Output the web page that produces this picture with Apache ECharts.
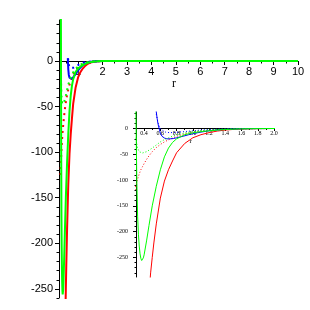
<!DOCTYPE html>
<html>
<head>
<meta charset="utf-8">
<script src="https://cdn.jsdelivr.net/npm/echarts@6/dist/echarts.min.js"></script>
<style>html,body{margin:0;padding:0;background:#fff}#c{width:310px;height:310px}</style>
</head>
<body>
<div id="c"></div>
<script>
// ---- data (r values and potential values) ----
var redSolidR = [0.43,0.46,0.48,0.50,0.52,0.55,0.60,0.65,0.70,0.75,0.80,0.90,1.0,1.1,1.2,1.3,1.4,1.5,1.6,1.8,2.0,3,4,6,8,10];
var redSolidV = [-400,-320,-280,-250,-222,-185,-135,-102,-80,-63,-47,-29,-18,-12,-8,-5,-3,-1.8,-1,-0.3,0,0,0,0,0,0];

var redDotR = [0.28,0.30,0.32,0.34,0.36,0.38,0.40,0.43,0.46,0.50,0.55,0.60,0.65,0.70,0.75,0.80,0.90,1.0,1.1,1.2,1.3,1.4,1.5,1.6,1.8,2.0,3,4,6,8,10];
var redDotV = [-125,-110,-98,-88,-80,-74,-68,-60,-53,-45,-37,-31,-26,-22,-18.5,-15,-10.5,-7.5,-5,-3.5,-2.3,-1.5,-1,-0.6,-0.2,0,0,0,0,0,0];

var greenSolidR = [0.28,0.29,0.30,0.31,0.32,0.33,0.34,0.35,0.36,0.37,0.38,0.39,0.40,0.43,0.46,0.50,0.55,0.60,0.65,0.70,0.75,0.80,0.90,1.0,1.1,1.2,1.3,1.4,1.5,1.6,1.8,2.0,3,4,6,8,10];
var greenSolidV = [300,120,20,-100,-170,-205,-228,-243,-252,-256,-255,-251,-245,-218,-188,-150,-112,-80,-55,-38,-27,-20,-12,-8.5,-6,-4.5,-3,-2,-1.2,-0.7,-0.2,0,0,0,0,0,0];

var greenDotR = [0.30,0.31,0.32,0.34,0.36,0.38,0.40,0.43,0.46,0.50,0.55,0.60,0.65,0.70,0.75,0.80,0.90,1.0,1.1,1.2,1.3,1.4,1.5,1.6,1.8,2.0,3,4,6,8,10];
var greenDotV = [-18,-30,-38,-45,-47.5,-47.5,-46.5,-45,-42,-38,-32,-26,-21.5,-18,-15,-12.5,-8.5,-6,-4,-2.8,-1.9,-1.2,-0.8,-0.5,-0.2,0,0,0,0,0,0];

var blueSolidR = [0.54,0.55,0.56,0.57,0.58,0.60,0.62,0.65,0.68,0.72,0.76,0.80,0.88,0.95,1.0,1.1,1.2,1.3,1.4,1.5,1.6,1.8,2.0,3,4,6,8,10];
var blueSolidV = [50,32,20,10,3,-9,-15,-18.5,-20,-20,-19.5,-18,-15,-12,-10,-7,-4.5,-2.8,-1.7,-1,-0.5,-0.15,0,0,0,0,0,0];

var blueDotR = [0.55,0.57,0.59,0.61,0.63,0.67,0.72,0.80,0.90,1.0,1.1,1.2,1.3,1.4,1.6,2.0,3,4,6,8,10];
var blueDotV = [28,12,3,-2,-5,-7.5,-8,-7.5,-6,-4.5,-3,-2,-1.3,-0.8,-0.3,0,0,0,0,0,0];

// in the large plot the blue curves are only drawn from about r = 0.58
var mainBlueStartR = 0.58;

// tick labels
var mainXTicks = [1,2,3,4,5,6,7,8,9,10];
var mainXMinor = [0.5,1.5,2.5,3.5,4.5,5.5,6.5,7.5,8.5,9.5];
var mainYTicks = [-250,-200,-150,-100,-50,0];
var mainYMinor = [-260,-240,-230,-220,-210,-190,-180,-170,-160,-140,-130,-120,-110,-90,-80,-70,-60,-40,-30,-20,-10,10,20,30,40];
var insetXTicks = [0.4,0.6,0.8,1.0,1.2,1.4,1.6,1.8,2.0];
var insetXMinor = [0.3,0.5,0.7,0.9,1.1,1.3,1.5,1.7,1.9];
var insetYTicks = [-250,-200,-150,-100,-50,0];
var insetYMinor = [-280,-270,-260,-240,-230,-220,-210,-190,-180,-170,-160,-140,-130,-120,-110,-90,-80,-70,-60,-40,-30,-20,-10,10,20,30];

function pairs(rs, vs, rmin){ 
  var out = [];
  rs.forEach(function(r,i){ if (rmin == null || r >= rmin) out.push([r, vs[i]]); });
  return out;
}

var curves = [
  {r: redDotR, v: redDotV, color:'#ff0000', dotted:true},
  {r: redSolidR, v: redSolidV, color:'#ff0000', dotted:false},
  {r: blueDotR, v: blueDotV, color:'#0000ff', dotted:true, mainMin: mainBlueStartR},
  {r: blueSolidR, v: blueSolidV, color:'#0000ff', dotted:false, mainMin: mainBlueStartR},
  {r: greenDotR, v: greenDotV, color:'#00ff00', dotted:true},
  {r: greenSolidR, v: greenSolidV, color:'#00ff00', dotted:false}
];

var series = [];
curves.forEach(function(c){
  series.push({type:'line', xAxisIndex:0, yAxisIndex:0, data: pairs(c.r, c.v, c.mainMin), showSymbol:false, symbol:'none', animation:false, clip:true,
    lineStyle:{color:c.color, width: 2, type: c.dotted ? [2,4] : 'solid'}});
  series.push({type:'line', xAxisIndex:1, yAxisIndex:2, data: pairs(c.r, c.v), showSymbol:false, symbol:'none', animation:false, clip:true,
    lineStyle:{color:c.color, width: 1, type: c.dotted ? [1,2] : 'solid'}});
});

var mainFont = {fontFamily:'Liberation Sans', fontSize:11, color:'#000'};
var insetFont = {fontFamily:'Liberation Serif', fontSize:6, color:'#000'};
var blackLine = {show:true, onZero:false, lineStyle:{color:'#000', width:1}};
var noLine = {show:false, onZero:false};

var option = {
  animation:false,
  backgroundColor:'#fff',
  grid:[
    {left:59, top:20, width:239, height:278},      // main data
    {left:136, top:112, width:138, height:165},    // inset data
    {left:59, top:20, width:239, height:41},       // main x axis at value 0
    {left:136, top:112, width:138, height:16.5}    // inset x axis at value 0
  ],
  xAxis:[
    {type:'value', gridIndex:0, min:0.22, max:10, show:false},
    {type:'value', gridIndex:1, min:0.3, max:2.0, show:false},
    {type:'value', gridIndex:2, min:0.22, max:10, position:'bottom', axisLine:blackLine,
     axisTick:{show:true, length:4, customValues:mainXTicks, lineStyle:{color:'#000'}},
     axisLabel:Object.assign({show:true, margin:5, customValues:mainXTicks}, mainFont),
     splitLine:{show:false}},
    {type:'value', gridIndex:2, min:0.22, max:10, position:'bottom', axisLine:noLine,
     axisTick:{show:true, length:2.5, customValues:mainXMinor, lineStyle:{color:'#000'}},
     axisLabel:{show:false}, splitLine:{show:false}},
    {type:'value', gridIndex:3, min:0.3, max:2.0, position:'bottom', axisLine:blackLine,
     axisTick:{show:true, length:2.5, customValues:insetXTicks, lineStyle:{color:'#000'}},
     axisLabel:Object.assign({show:true, margin:2, customValues:insetXTicks, formatter:function(v){return v.toFixed(1);}}, insetFont),
     splitLine:{show:false}},
    {type:'value', gridIndex:3, min:0.3, max:2.0, position:'bottom', axisLine:noLine,
     axisTick:{show:true, length:1.5, customValues:insetXMinor, lineStyle:{color:'#000'}},
     axisLabel:{show:false}, splitLine:{show:false}}
  ],
  yAxis:[
    {type:'value', gridIndex:0, min:-260, max:45, position:'left', axisLine:blackLine,
     axisTick:{show:true, length:4, customValues:mainYTicks, lineStyle:{color:'#000'}},
     axisLabel:Object.assign({show:true, margin:6, customValues:mainYTicks}, mainFont),
     splitLine:{show:false}},
    {type:'value', gridIndex:0, min:-260, max:45, position:'left', axisLine:noLine,
     axisTick:{show:true, length:2.5, customValues:mainYMinor, lineStyle:{color:'#000'}},
     axisLabel:{show:false}, splitLine:{show:false}},
    {type:'value', gridIndex:1, min:-288, max:32, position:'left', axisLine:blackLine,
     axisTick:{show:true, length:3, customValues:insetYTicks, lineStyle:{color:'#000'}},
     axisLabel:Object.assign({show:true, margin:8, customValues:insetYTicks}, insetFont),
     splitLine:{show:false}},
    {type:'value', gridIndex:1, min:-288, max:32, position:'left', axisLine:noLine,
     axisTick:{show:true, length:1.5, customValues:insetYMinor, lineStyle:{color:'#000'}},
     axisLabel:{show:false}, splitLine:{show:false}},
    {type:'value', gridIndex:2, show:false},
    {type:'value', gridIndex:3, show:false}
  ],
  graphic:[
    {type:'text', left:172, top:78, style:{text:'r', font:'12px "Liberation Serif"', fill:'#000'}},
    {type:'text', left:189.5, top:138, style:{text:'r', font:'7px "Liberation Serif"', fill:'#000'}}
  ],
  series: series
};

var chart = echarts.init(document.getElementById('c'), null, {renderer:'canvas'});
chart.setOption(option);
</script>
</body>
</html>
